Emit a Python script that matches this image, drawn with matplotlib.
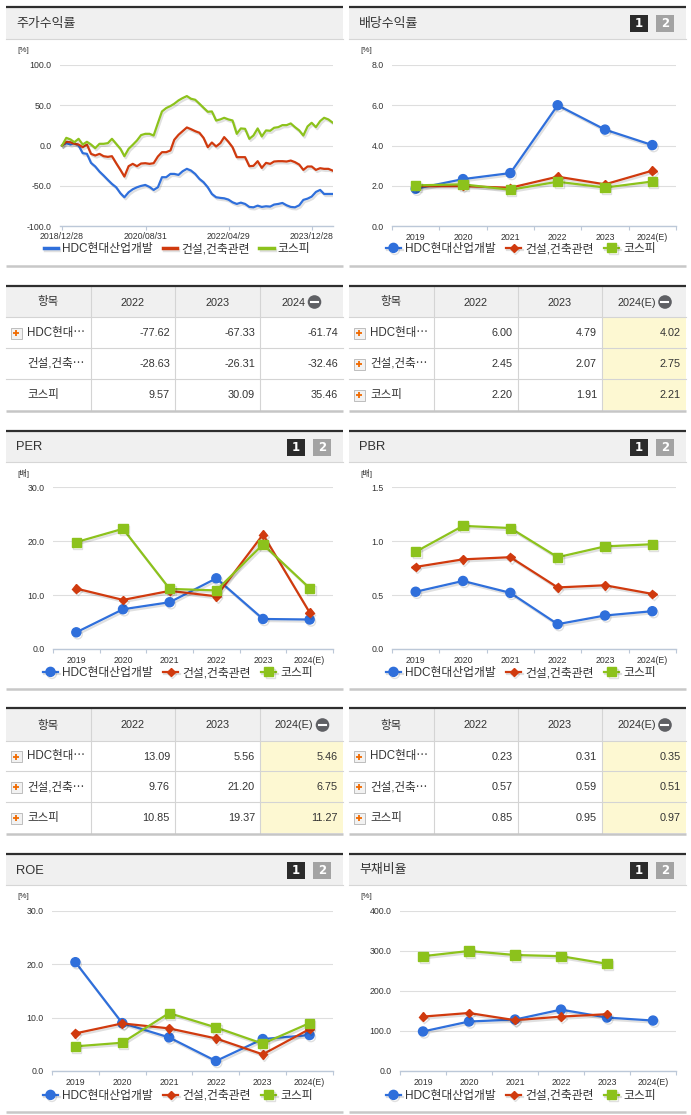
import numpy as np
import pandas as pd
import matplotlib
matplotlib.use('Agg')
import matplotlib.pyplot as plt
import matplotlib.patheffects as pe
from matplotlib.patches import Rectangle, Circle

plt.rcParams['font.family'] = ['Liberation Sans', 'Noto Sans CJK KR', 'DejaVu Sans']

# ---- data ----
names = ['HDC현대산업개발', '건설,건축관련', '코스피']
years = ['2019', '2020', '2021', '2022', '2023', '2024(E)']

# stock return [%], monthly readings from 2018/12/28
ret_start = '2018-12-28'
ret_hdc = [0, 2.9, 1.2, 2.9, 0, -9.5, -10.4, -21.6, -26.1, -32.4, -37.3, -42.7, -47.7, -51.9, -59.3, -64.3,
           -58.1, -54.4, -51.9, -50.2, -49.0, -51.5, -55.2, -51.9, -39.4, -39.4, -35.3, -35.3, -36.5, -32.0,
           -29.0, -31.1, -35.3, -41.5, -45.6, -51.9, -60.2, -64.3, -65.1, -65.6, -67.2, -70.5, -72.6, -71.0,
           -72.6, -76.3, -76.8, -74.7, -76.3, -75.5, -75.9, -73.4, -72.6, -71.4, -74.3, -76.3, -76.8, -74.3,
           -67.6, -66.0, -63.5, -57.7, -55.2, -60.2, -60.2, -60.2]
ret_con = [0, 4.6, 4.0, 2.1, 1.2, -2.1, 1.2, -10.4, -12.4, -10.4, -13.3, -14.1, -13.3, -22.0, -30.3, -38.6,
           -25.7, -22.8, -25.7, -22.4, -22.0, -22.8, -22.0, -13.7, -8.3, -8.3, -6.2, 7.1, 13.3, 17.8,
           22.4, 20.3, 17.8, 15.8, 9.5, -2.1, 3.7, -1.2, 2.9, 10.4, 4.6, -2.1, -14.5, -14.5,
           -14.5, -25.7, -25.3, -19.5, -27.8, -21.6, -22.8, -19.9, -19.5, -19.5, -19.9, -18.7, -20.7, -23.7,
           -30.3, -26.1, -26.1, -30.3, -28.2, -29.0, -29.0, -31.1]
ret_kospi = [0, 9.5, 7.5, 4.1, 8.3, 1.2, 4.6, 1.2, -3.3, 2.1, 2.1, 2.9, 8.3, 2.1, -4.1, -13.3,
             -4.1, 0.8, 6.2, 12.9, 14.5, 14.5, 12.4, 27.8, 42.3, 46.5, 49.0, 51.9, 56.0, 58.9,
             61.4, 58.1, 56.8, 51.9, 46.9, 41.9, 42.3, 31.0, 32.4, 34.4, 32.4, 31.1, 14.5, 21.2,
             20.7, 8.3, 12.4, 21.2, 11.2, 18.7, 18.3, 22.0, 22.8, 25.3, 25.3, 27.4, 22.8, 18.7,
             12.4, 23.7, 28.2, 22.8, 30.3, 34.4, 32.4, 28.6]
ret_tick_dates = ['2018-12-28', '2020-08-31', '2022-04-29', '2023-12-28']
ret_tick_labels = ['2018/12/28', '2020/08/31', '2022/04/29', '2023/12/28']

div_hdc = [1.85, 2.33, 2.63, 6.00, 4.79, 4.02]
div_con = [1.98, 1.98, 1.90, 2.45, 2.07, 2.75]
div_kospi = [2.02, 2.07, 1.80, 2.20, 1.91, 2.21]

per_hdc = [3.09, 7.36, 8.66, 13.09, 5.56, 5.46]
per_con = [11.19, 9.09, 10.76, 9.76, 21.20, 6.75]
per_kospi = [19.79, 22.26, 11.13, 10.85, 19.37, 11.27]

pbr_hdc = [0.53, 0.63, 0.52, 0.23, 0.31, 0.35]
pbr_con = [0.76, 0.83, 0.85, 0.57, 0.59, 0.51]
pbr_kospi = [0.90, 1.14, 1.12, 0.85, 0.95, 0.97]

roe_hdc = [20.4, 8.98, 6.30, 1.87, 5.99, 6.74]
roe_con = [7.05, 8.92, 7.99, 6.11, 3.12, 7.86]
roe_kospi = [4.62, 5.30, 10.85, 8.17, 5.12, 8.98]

debt_hdc = [98.8, 123.7, 128.6, 153.5, 133.6, 126.1]
debt_con = [136.0, 145.0, 127.0, 136.0, 142.0, None]
debt_kospi = [287.0, 300.0, 290.0, 287.0, 268.0, None]

tbl_labels = ['HDC현대⋯', '건설,건축⋯', '코스피']
ret_tbl_cols = ['2022', '2023', '2024']
ret_tbl = [['-77.62', '-67.33', '-61.74'], ['-28.63', '-26.31', '-32.46'], ['9.57', '30.09', '35.46']]
est_cols = ['2022', '2023', '2024(E)']
div_tbl = [['6.00', '4.79', '4.02'], ['2.45', '2.07', '2.75'], ['2.20', '1.91', '2.21']]
per_tbl = [['13.09', '5.56', '5.46'], ['9.76', '21.20', '6.75'], ['10.85', '19.37', '11.27']]
pbr_tbl = [['0.23', '0.31', '0.35'], ['0.57', '0.59', '0.51'], ['0.85', '0.95', '0.97']]

# ---- style ----
BLUE, RED, GREEN = '#2f6fdb', '#d03a0e', '#8cc21c'
AXC = '#bcc8d8'
GRID = '#dedede'
TXT = '#333333'
W, H = 691, 1115

fig = plt.figure(figsize=(W / 100, H / 100), dpi=100)
bg = fig.add_axes([0, 0, 1, 1])
bg.set_xlim(0, W)
bg.set_ylim(H, 0)
bg.axis('off')

shadow = [pe.SimpleLineShadow(offset=(1, -1.5), shadow_color='k', alpha=0.12), pe.Normal()]


def px_ax(x0, y0, x1, y1):
    ax = fig.add_axes([x0 / W, 1 - y1 / H, (x1 - x0) / W, (y1 - y0) / H])
    ax.patch.set_visible(False)
    return ax


def panel(x0, x1, top, head_bot, bottom, title, unit, buttons=True):
    bg.add_patch(Rectangle((x0, top), x1 - x0, head_bot - top, fc='#f0f0f0', ec='none'))
    bg.plot([x0, x1], [top, top], color='#2e2e2e', lw=1.6, solid_capstyle='butt')
    bg.plot([x0, x1], [head_bot, head_bot], color='#d6d6d6', lw=0.8)
    bg.plot([x0, x1], [bottom, bottom], color='#c8c8c8', lw=1.8, solid_capstyle='butt')
    bg.text(x0 + 10, (top + head_bot) / 2 + 1, title, fontsize=9.3, va='center', color=TXT)
    bg.text(x0 + 11, top + 43, unit, fontsize=5.8, va='center', color=TXT)
    if buttons:
        for bx, fc, lab in [(x1 - 56, '#2b2b2b', '1'), (x1 - 30, '#a3a3a3', '2')]:
            bg.add_patch(Rectangle((bx, top + 7.5), 18, 17.5, fc=fc, ec='none'))
            bg.text(bx + 9, top + 16.5, lab, fontsize=8.5, fontweight='bold', color='white',
                    ha='center', va='center', family='DejaVu Sans')


def style_y(ax):
    for s in ['top', 'right', 'left']:
        ax.spines[s].set_visible(False)
    ax.spines['bottom'].set_color(AXC)
    ax.spines['bottom'].set_linewidth(1.0)
    ax.yaxis.grid(True, color=GRID, lw=0.8)
    ax.set_axisbelow(True)
    ax.tick_params(axis='y', length=0, pad=6, labelsize=6.3, labelcolor=TXT)


def cat_chart(box, ymax, step, fmt, series, legend_xy):
    ax = px_ax(*box)
    x = np.arange(len(years))
    styles = [(BLUE, 'o', 6.5), (RED, 'D', 4.3), (GREEN, 's', 6.5)]
    handles = []
    for vals, (col, mk, ms), nm in zip(series, styles, names):
        v = np.array([np.nan if a is None else a for a in vals], dtype=float)
        h, = ax.plot(x, v, color=col, lw=1.6, marker=mk, ms=ms, mec=col, mfc=col,
                     label=nm, path_effects=shadow, clip_on=False)
        handles.append(h)
    ax.set_xlim(-0.5, len(years) - 0.5)
    ax.set_ylim(0, ymax)
    ticks = np.arange(0, ymax + step / 2, step)
    ax.set_yticks(ticks)
    ax.set_yticklabels([fmt.format(t) for t in ticks])
    style_y(ax)
    ax.set_xticks(x)
    ax.set_xticklabels(years)
    ax.set_xticks(np.arange(-0.5, len(years)), minor=True)
    ax.tick_params(axis='x', which='major', length=0, pad=5, labelsize=6.3, labelcolor=TXT)
    ax.tick_params(axis='x', which='minor', length=3, width=0.8, color=AXC)
    ax.legend(handles=handles, loc='center', bbox_to_anchor=(legend_xy[0] / W, 1 - legend_xy[1] / H),
              bbox_transform=fig.transFigure, ncol=3, frameon=False, fontsize=8.5,
              handlelength=1.3, handletextpad=0.35, columnspacing=0.85, labelcolor=TXT)
    return ax


def draw_table(xs, ys, headers, rows, values, plus, yellow):
    top = ys[0]
    bg.add_patch(Rectangle((xs[0], top), xs[-1] - xs[0], ys[1] - top, fc='#f0f0f0', ec='none'))
    if yellow:
        bg.add_patch(Rectangle((xs[3], ys[1]), xs[4] - xs[3], ys[-1] - ys[1], fc='#fdf8d2', ec='none'))
    for y in ys[1:-1]:
        bg.plot([xs[0], xs[-1]], [y, y], color='#d4d4d4', lw=0.8)
    for xv in xs[1:-1]:
        bg.plot([xv, xv], [top, ys[-1]], color='#d4d4d4', lw=0.8)
    bg.plot([xs[0], xs[-1]], [top, top], color='#2e2e2e', lw=1.6, solid_capstyle='butt')
    bg.plot([xs[0], xs[-1]], [ys[-1] + 0.5, ys[-1] + 0.5], color='#c6c6c6', lw=1.8, solid_capstyle='butt')
    hy = (ys[0] + ys[1]) / 2 + 1
    bg.text((xs[0] + xs[1]) / 2, hy, '항목', fontsize=8.3, ha='center', va='center', color=TXT)
    for i, lab in enumerate(headers):
        cx = (xs[i + 1] + xs[i + 2]) / 2
        if i < 2:
            bg.text(cx, hy, lab, fontsize=7.8, ha='center', va='center', color=TXT)
        else:
            icx = cx + (13 if len(lab) == 4 else 21)
            bg.text(icx - 9, hy, lab, fontsize=7.8, ha='right', va='center', color=TXT)
            bg.add_patch(Circle((icx, hy - 0.5), 6.8, fc='#5f6064', ec='none'))
            bg.plot([icx - 3.5, icx + 3.5], [hy - 0.5, hy - 0.5], color='white', lw=1.5)
    for r in range(3):
        cy = (ys[r + 1] + ys[r + 2]) / 2 + 0.5
        if plus[r]:
            ix = xs[0] + 5
            bg.add_patch(Rectangle((ix, cy - 5.5), 11, 11, fc='#f2f2f2', ec='#b4b4b4', lw=0.6))
            bg.plot([ix + 2.5, ix + 8.5], [cy, cy], color='#f06a00', lw=1.3, solid_capstyle='butt')
            bg.plot([ix + 5.5, ix + 5.5], [cy - 3, cy + 3], color='#f06a00', lw=1.3, solid_capstyle='butt')
        bg.text(xs[0] + 21, cy, rows[r], fontsize=8.3, ha='left', va='center', color=TXT)
        for c in range(3):
            bg.text(xs[c + 2] - 5, cy, values[r][c], fontsize=7.8, ha='right', va='center', color=TXT)


# ---- panels ----
LX0, LX1, RX0, RX1 = 6, 343, 349, 686
panel(LX0, LX1, 7, 39, 266, '주가수익률', '[%]', buttons=False)
panel(RX0, RX1, 7, 39, 266, '배당수익률', '[%]')
panel(LX0, LX1, 431, 462, 689, 'PER', '[배]')
panel(RX0, RX1, 431, 462, 689, 'PBR', '[배]')
panel(LX0, LX1, 854, 885, 1112, 'ROE', '[%]')
panel(RX0, RX1, 854, 885, 1112, '부채비율', '[%]')

# stock return line chart
ax = px_ax(60, 65, 333, 226)
ret_dates = pd.date_range(ret_start, periods=len(ret_hdc), freq=pd.DateOffset(months=1))
handles = []
for vals, col, nm in [(ret_hdc, BLUE, names[0]), (ret_con, RED, names[1]), (ret_kospi, GREEN, names[2])]:
    h, = ax.plot(ret_dates[:len(vals)], vals, color=col, lw=1.6, label=nm, path_effects=shadow)
    handles.append(h)
ax.set_xlim(pd.Timestamp('2018-12-13'), pd.Timestamp('2024-06-01'))
ax.set_yticks([-100, -50, 0, 50, 100])
ax.set_yticklabels(['-100.0', '-50.0', '0.0', '50.0', '100.0'])
style_y(ax)
ax.set_ylim(-100, 100)
ax.set_xticks([pd.Timestamp(d) for d in ret_tick_dates])
ax.set_xticklabels(ret_tick_labels)
ax.tick_params(axis='x', length=3, width=0.8, color=AXC, pad=1.5, labelsize=6.3, labelcolor=TXT)
ax.legend(handles=handles, loc='center', bbox_to_anchor=(177 / W, 1 - 249 / H),
          bbox_transform=fig.transFigure, ncol=3, frameon=False, fontsize=8.5,
          handlelength=1.2, handletextpad=0.35, columnspacing=0.85, labelcolor=TXT)
for l in ax.get_legend().get_lines():
    l.set_linewidth(2.5)

cat_chart((392, 65, 676, 226), 8, 2, '{:.1f}', [div_hdc, div_con, div_kospi], (521, 249))
cat_chart((53, 487, 333, 649), 30, 10, '{:.1f}', [per_hdc, per_con, per_kospi], (178, 673))
cat_chart((392, 487, 676, 649), 1.5, 0.5, '{:.1f}', [pbr_hdc, pbr_con, pbr_kospi], (521, 673))
cat_chart((52, 911, 333, 1071), 30, 10, '{:.1f}', [roe_hdc, roe_con, roe_kospi], (178, 1096))
cat_chart((400, 911, 676, 1071), 400, 100, '{:.1f}', [debt_hdc, debt_con, debt_kospi], (521, 1096))

# ---- tables ----
LXS = [6, 91, 175, 260, 343]
RXS = [349, 434, 518, 602, 686]
T1 = [286, 317, 348, 379, 410]
T2 = [708, 741, 771, 802, 833]
draw_table(LXS, T1, ret_tbl_cols, tbl_labels, ret_tbl, [True, False, False], False)
draw_table(RXS, T1, est_cols, tbl_labels, div_tbl, [True, True, True], True)
draw_table(LXS, T2, est_cols, tbl_labels, per_tbl, [True, True, True], True)
draw_table(RXS, T2, est_cols, tbl_labels, pbr_tbl, [True, True, True], True)

fig.savefig('out.png', dpi=100, facecolor='white')
